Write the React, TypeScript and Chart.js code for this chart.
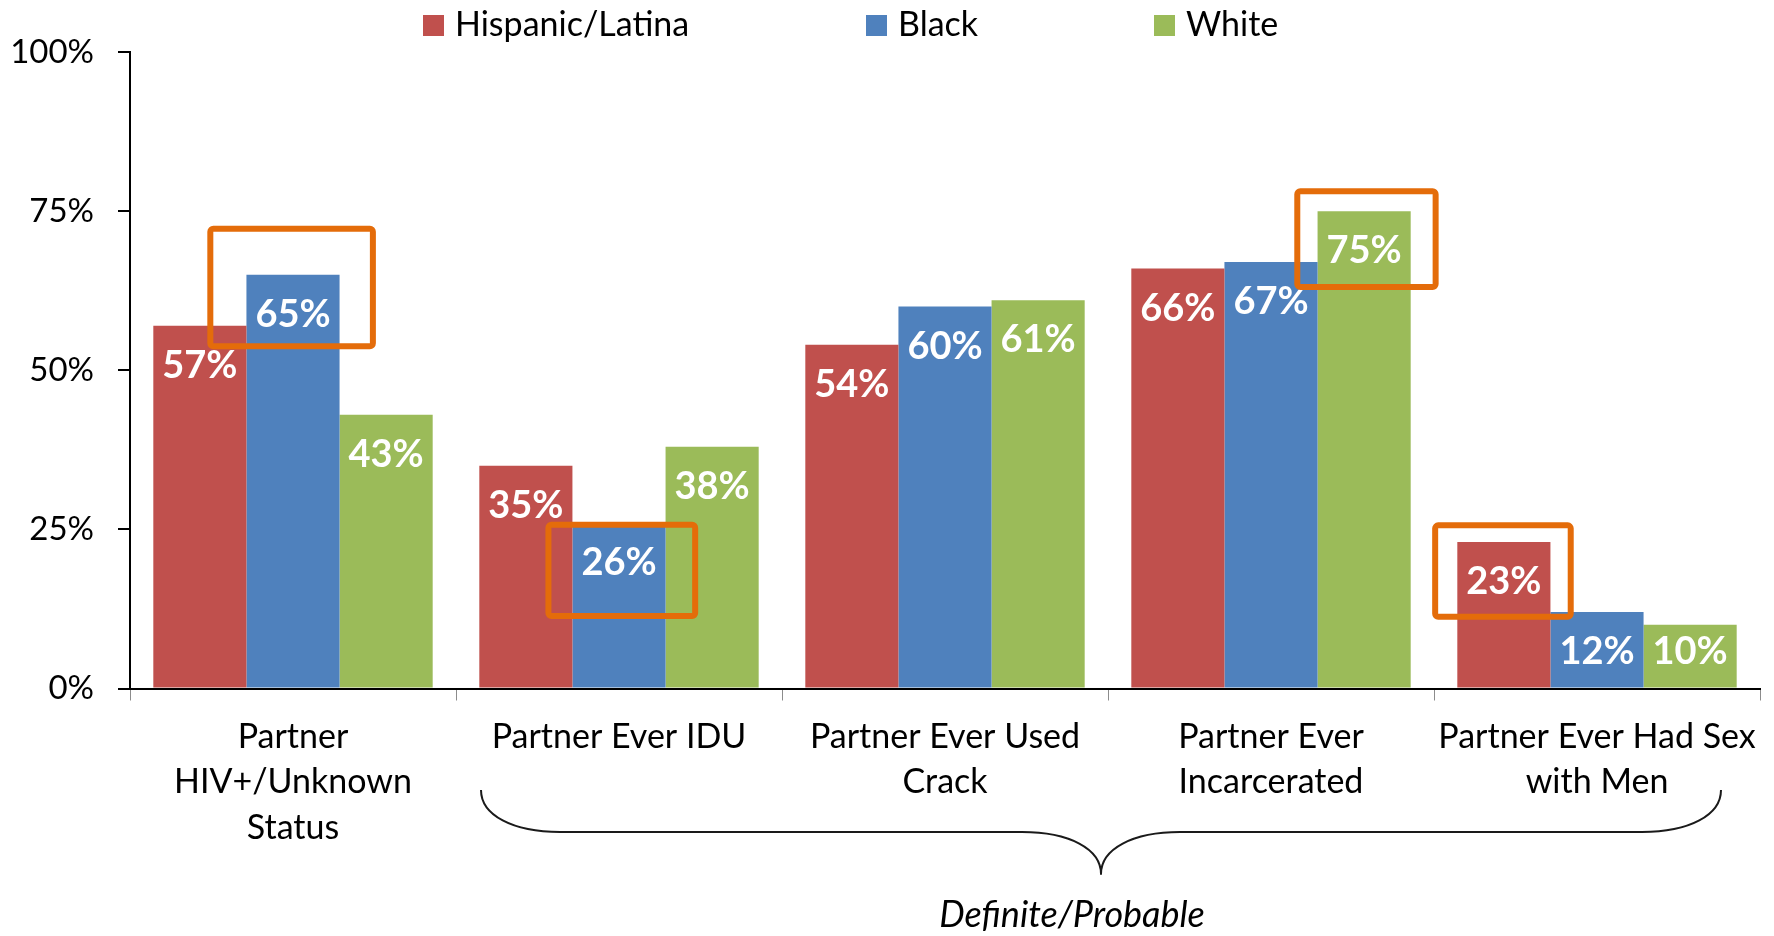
import React, { useEffect, useRef } from "react";
import { Chart, registerables } from "chart.js";

Chart.register(...registerables);

const categories: string[][] = [
  ["Partner", "HIV+/Unknown", "Status"],
  ["Partner Ever IDU"],
  ["Partner Ever Used", "Crack"],
  ["Partner Ever", "Incarcerated"],
  ["Partner Ever Had Sex", "with Men"],
];
const seriesNames = ["Hispanic/Latina", "Black", "White"];
const hispanicValues = [57, 35, 54, 66, 23];
const blackValues = [65, 26, 60, 67, 12];
const whiteValues = [43, 38, 61, 75, 10];
const seriesColors = ["#C0504D", "#4F81BD", "#9BBB59"];

// highlighted bars: category index, series index, box extent (value units vertically, bar widths horizontally)
const highlights = [
  { category: 0, series: 1, top: 72.7, bottom: 53.3, left: 0.92, right: 0.89 },
  { category: 1, series: 1, top: 26.2, bottom: 10.9, left: 0.79, right: 0.85 },
  { category: 3, series: 2, top: 78.6, bottom: 62.6, left: 0.75, right: 0.8 },
  { category: 4, series: 0, top: 26.1, bottom: 10.8, left: 0.77, right: 0.75 },
];
const braceFrom = 1;
const braceTo = 4;
const braceLabel = "Definite/Probable";

// legend layout (left edge of each swatch)
const legendX = [423, 866, 1154];

const FONT = "Lato, 'Open Sans', sans-serif";

const overlayPlugin = {
  id: "overlay",
  afterDatasetsDraw(chart: any) {
    const ctx = chart.ctx;
    const base = chart.scales.y.getPixelForValue(0);
    ctx.save();
    ctx.fillStyle = "#FFFFFF";
    ctx.font = `bold 38px ${FONT}`;
    ctx.textAlign = "center";
    ctx.textBaseline = "middle";
    chart.data.datasets.forEach((ds: any, di: number) => {
      const meta = chart.getDatasetMeta(di);
      meta.data.forEach((bar: any, i: number) => {
        const ly = Math.min(bar.y + 40, base - 37);
        ctx.fillText(`${ds.data[i]}%`, bar.x, ly);
      });
    });
    ctx.restore();
  },
  afterDraw(chart: any) {
    const ctx = chart.ctx;
    const y = chart.scales.y;
    const x = chart.scales.x;
    ctx.save();
    // highlight boxes
    ctx.strokeStyle = "#E46C0A";
    ctx.lineWidth = 6;
    ctx.lineJoin = "round";
    highlights.forEach((h) => {
      const bar: any = chart.getDatasetMeta(h.series).data[h.category];
      const w = bar.width;
      const x0 = bar.x - h.left * w + 3;
      const x1 = bar.x + h.right * w - 3;
      const y0 = y.getPixelForValue(h.top) + 3;
      const y1 = y.getPixelForValue(h.bottom) - 3;
      ctx.beginPath();
      ctx.roundRect(x0, y0, x1 - x0, y1 - y0, 3);
      ctx.stroke();
    });

    // brace
    const catW = x.getPixelForValue(1) - x.getPixelForValue(0);
    const L = x.getPixelForValue(braceFrom) - catW / 2 + 25;
    const R = x.getPixelForValue(braceTo) + catW / 2 - 39;
    const C = (L + R) / 2;
    const yTop = 790;
    const yMid = 832;
    const yTip = 874;
    const cw = 79;
    const ch = yMid - yTop;
    ctx.strokeStyle = "#1a1a1a";
    ctx.lineWidth = 2;
    ctx.beginPath();
    ctx.moveTo(L, yTop);
    ctx.bezierCurveTo(L, yTop + ch * 0.6, L + cw * 0.4, yMid, L + cw, yMid);
    ctx.lineTo(C - cw, yMid);
    ctx.bezierCurveTo(C - cw * 0.4, yMid, C, yMid + ch * 0.4, C, yTip);
    ctx.bezierCurveTo(C, yMid + ch * 0.4, C + cw * 0.4, yMid, C + cw, yMid);
    ctx.lineTo(R - cw, yMid);
    ctx.bezierCurveTo(R - cw * 0.4, yMid, R, yTop + ch * 0.6, R, yTop);
    ctx.stroke();

    ctx.fillStyle = "#000";
    ctx.font = `italic 36px ${FONT}`;
    ctx.textAlign = "center";
    ctx.textBaseline = "middle";
    ctx.fillText(braceLabel, C - 29, 915);

    // legend
    ctx.font = `34px ${FONT}`;
    ctx.textAlign = "left";
    chart.data.datasets.forEach((ds: any, i: number) => {
      const lx = legendX[i];
      ctx.fillStyle = ds.backgroundColor;
      ctx.fillRect(lx, 15, 21, 21);
      ctx.fillStyle = "#000";
      ctx.fillText(ds.label, lx + 32, 25);
    });
    ctx.restore();
  },
};

export default function App() {
  const ref = useRef<HTMLCanvasElement>(null);
  useEffect(() => {
    if (!ref.current) return;
    const chart = new Chart(ref.current, {
      type: "bar",
      data: {
        labels: categories,
        datasets: [hispanicValues, blackValues, whiteValues].map((d, i) => ({
          label: seriesNames[i],
          data: d,
          backgroundColor: seriesColors[i],
          borderWidth: 0,
          categoryPercentage: 0.857,
          barPercentage: 1,
        })),
      },
      options: {
        responsive: false,
        animation: false,
        layout: { padding: { top: 52, right: 14, left: 0, bottom: 0 } },
        plugins: { legend: { display: false }, tooltip: { enabled: false } },
        scales: {
          x: {
            grid: {
              drawOnChartArea: false,
              drawTicks: true,
              tickLength: 12,
              color: "#8c8c8c",
              offset: true,
            },
            border: { color: "#000", width: 2 },
            ticks: {
              color: "#000",
              font: { family: FONT, size: 34, lineHeight: 1.333 },
              padding: 14,
              maxRotation: 0,
              autoSkip: false,
            },
            afterFit: (s: any) => {
              s.height = 936 - 688.5;
            },
          },
          y: {
            min: 0,
            max: 100,
            grid: { drawOnChartArea: false, drawTicks: true, tickLength: 12, color: "#000", lineWidth: 2 },
            border: { color: "#000", width: 2 },
            ticks: {
              stepSize: 25,
              color: "#000",
              font: { family: FONT, size: 33 },
              padding: 24,
              callback: (v: any) => `${v}%`,
            },
            afterFit: (s: any) => {
              s.width = 130;
            },
          },
        },
      },
      plugins: [overlayPlugin],
    });
    return () => chart.destroy();
  }, []);
  return (
    <div style={{ position: "absolute", left: 0, top: 0, width: 1774, height: 936, background: "#fff" }}>
      <canvas ref={ref} width={1774} height={936} />
    </div>
  );
}
